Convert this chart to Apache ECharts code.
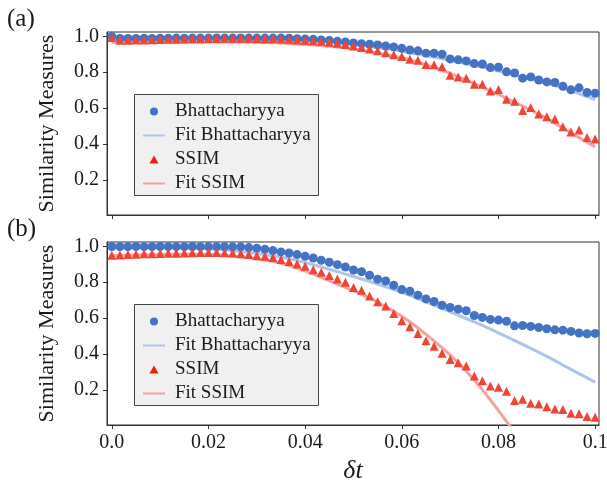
<!DOCTYPE html>
<html>
<head>
<meta charset="utf-8">
<script src="https://cdn.jsdelivr.net/npm/echarts@6/dist/echarts.min.js"></script>
<style>
  html, body { margin: 0; padding: 0; background: #fff; }
  #main { width: 607px; height: 480px; }
</style>
</head>
<body>
<div id="main"></div>
<script>
// sample times (delta t)
var dt = [0, 0.00167, 0.00333, 0.005, 0.00667, 0.00833, 0.01, 0.01167, 0.01333, 0.015,
  0.01667, 0.01833, 0.02, 0.02167, 0.02333, 0.025, 0.02667, 0.02833, 0.03, 0.03167,
  0.03333, 0.035, 0.03667, 0.03833, 0.04, 0.04167, 0.04333, 0.045, 0.04667, 0.04833,
  0.05, 0.05167, 0.05333, 0.055, 0.05667, 0.05833, 0.06, 0.06167, 0.06333, 0.065,
  0.06667, 0.06833, 0.07, 0.07167, 0.07333, 0.075, 0.07667, 0.07833, 0.08, 0.08167,
  0.08333, 0.085, 0.08667, 0.08833, 0.09, 0.09167, 0.09333, 0.095, 0.09667, 0.09833, 0.1];

// panel (a)
var bhatA = [1.000, 0.988, 0.988, 0.988, 0.989, 0.988, 0.989, 0.989, 0.990, 0.989,
  0.990, 0.990, 0.990, 0.991, 0.990, 0.990, 0.991, 0.990, 0.990, 0.990,
  0.990, 0.990, 0.989, 0.987, 0.985, 0.983, 0.980, 0.977, 0.972, 0.968,
  0.963, 0.959, 0.956, 0.952, 0.946, 0.941, 0.933, 0.924, 0.919, 0.906,
  0.906, 0.900, 0.874, 0.869, 0.863, 0.848, 0.846, 0.826, 0.828, 0.802,
  0.796, 0.767, 0.774, 0.757, 0.746, 0.743, 0.722, 0.702, 0.713, 0.687, 0.683];
var ssimA = [0.993, 0.978, 0.978, 0.979, 0.980, 0.981, 0.982, 0.983, 0.984, 0.985,
  0.986, 0.987, 0.988, 0.988, 0.989, 0.989, 0.989, 0.989, 0.988, 0.987,
  0.986, 0.985, 0.983, 0.980, 0.978, 0.975, 0.972, 0.967, 0.962, 0.955,
  0.946, 0.937, 0.930, 0.919, 0.909, 0.898, 0.887, 0.872, 0.867, 0.843,
  0.841, 0.830, 0.783, 0.774, 0.767, 0.733, 0.733, 0.696, 0.704, 0.650,
  0.639, 0.587, 0.604, 0.567, 0.552, 0.539, 0.496, 0.467, 0.478, 0.437, 0.428];

// panel (b)
var bhatB = [0.999, 0.998, 0.998, 0.999, 0.998, 0.998, 0.999, 0.998, 0.998, 0.998,
  0.999, 0.998, 0.998, 0.998, 0.998, 0.997, 0.997, 0.993, 0.989, 0.983,
  0.976, 0.969, 0.963, 0.954, 0.944, 0.935, 0.922, 0.911, 0.898, 0.885,
  0.868, 0.859, 0.839, 0.817, 0.807, 0.783, 0.759, 0.750, 0.728, 0.707,
  0.693, 0.672, 0.659, 0.650, 0.641, 0.615, 0.604, 0.593, 0.589, 0.583,
  0.557, 0.559, 0.554, 0.548, 0.541, 0.535, 0.533, 0.526, 0.517, 0.513, 0.515];
var ssimB = [0.950, 0.952, 0.954, 0.956, 0.958, 0.959, 0.960, 0.961, 0.962, 0.963,
  0.964, 0.965, 0.965, 0.965, 0.964, 0.963, 0.959, 0.954, 0.948, 0.944,
  0.937, 0.926, 0.915, 0.902, 0.889, 0.870, 0.855, 0.837, 0.818, 0.800,
  0.770, 0.756, 0.724, 0.691, 0.667, 0.626, 0.585, 0.552, 0.515, 0.474,
  0.444, 0.404, 0.370, 0.352, 0.333, 0.278, 0.252, 0.222, 0.215, 0.193,
  0.141, 0.148, 0.126, 0.122, 0.106, 0.094, 0.091, 0.070, 0.067, 0.052, 0.048];

// fitted curves, read at these times
var fitT = [0, 0.005, 0.01, 0.015, 0.02, 0.025, 0.03, 0.035, 0.04, 0.045,
  0.05, 0.055, 0.06, 0.065, 0.07, 0.075, 0.08, 0.085, 0.09, 0.095, 0.1];
var fitBhatA = [0.990, 0.990, 0.990, 0.990, 0.989, 0.988, 0.985, 0.981, 0.975, 0.968,
  0.955, 0.937, 0.917, 0.893, 0.866, 0.838, 0.806, 0.773, 0.738, 0.697, 0.648];
var fitSsimA = [0.966, 0.967, 0.968, 0.969, 0.969, 0.969, 0.967, 0.963, 0.955, 0.945,
  0.930, 0.907, 0.881, 0.842, 0.794, 0.737, 0.676, 0.612, 0.543, 0.462, 0.385];
var fitBhatB = [0.997, 0.997, 0.995, 0.991, 0.985, 0.975, 0.960, 0.940, 0.910, 0.872,
  0.832, 0.790, 0.743, 0.690, 0.635, 0.579, 0.518, 0.454, 0.387, 0.315, 0.243];
var fitSsimB = [0.948, 0.952, 0.955, 0.956, 0.954, 0.946, 0.930, 0.905, 0.862, 0.808,
  0.752, 0.690, 0.610, 0.510, 0.395, 0.255, 0.085, -0.100, null, null, null];

// ticks
var xTicks = [0, 0.02, 0.04, 0.06, 0.08, 0.1];
var xTickLabels = ['0.0', '0.02', '0.04', '0.06', '0.08', '0.1'];
var yTicks = [0.2, 0.4, 0.6, 0.8, 1.0];
var yTickLabels = ['0.2', '0.4', '0.6', '0.8', '1.0'];

var BLUE = '#4472c4';
var RED = '#ef4535';
var BLUE_FIT = '#aec4e9';
var RED_FIT = '#f6a0a0';
var FONT = 'Liberation Serif';

function pairs(xs, ys) {
  var out = [];
  for (var i = 0; i < xs.length; i++) {
    if (ys[i] !== null) out.push([xs[i], ys[i]]);
  }
  return out;
}

function tickLabel(vals, labels) {
  return function (v) {
    for (var i = 0; i < vals.length; i++) {
      if (Math.abs(vals[i] - v) < 1e-9) return labels[i];
    }
    return '';
  };
}

function xAxisFor(gridIndex, showLabels) {
  return {
    type: 'value',
    gridIndex: gridIndex,
    min: -0.001,
    max: 0.1008,
    name: showLabels ? 'δt' : '',
    nameLocation: 'middle',
    nameGap: 33,
    nameTextStyle: { fontFamily: FONT, fontStyle: 'italic', fontSize: 26, color: '#1a1a1a' },
    axisLine: { show: true, onZero: false, lineStyle: { color: '#333', width: 1 } },
    axisTick: { show: true, inside: false, length: 4, customValues: xTicks, lineStyle: { color: '#333' } },
    axisLabel: {
      show: showLabels,
      customValues: xTicks,
      formatter: tickLabel(xTicks, xTickLabels),
      margin: 8,
      fontFamily: FONT,
      fontSize: 20,
      color: '#1a1a1a'
    },
    splitLine: { show: false }
  };
}

function yAxisFor(gridIndex) {
  return {
    type: 'value',
    gridIndex: gridIndex,
    min: 0.005,
    max: 1.024,
    name: 'Similarity Measures',
    nameLocation: 'middle',
    nameGap: 49,
    nameTextStyle: { fontFamily: FONT, fontSize: 22, color: '#1a1a1a' },
    axisLine: { show: true, onZero: false, lineStyle: { color: '#333', width: 1 } },
    axisTick: { show: true, inside: false, length: 4, customValues: yTicks, lineStyle: { color: '#333' } },
    axisLabel: {
      customValues: yTicks,
      formatter: tickLabel(yTicks, yTickLabels),
      margin: 8,
      fontFamily: FONT,
      fontSize: 20,
      color: '#1a1a1a'
    },
    splitLine: { show: false }
  };
}

var TRI = 'path://M4,0 L8,7 L0,7 Z';

function legendFor(top) {
  return {
    orient: 'vertical',
    left: 142,
    top: top,
    padding: 0,
    itemGap: 5,
    itemWidth: 22,
    itemHeight: 8,
    selectedMode: false,
    z: 6,
    textStyle: { fontFamily: FONT, fontSize: 19, color: '#1a1a1a', lineHeight: 19, padding: [0, 0, 0, 5] },
    data: [
      { name: 'Bhattacharyya', icon: 'circle' },
      { name: 'Fit Bhattacharyya', itemStyle: { opacity: 0 }, lineStyle: { width: 2 } },
      { name: 'SSIM', icon: TRI, itemStyle: { color: '#f21d12' } },
      { name: 'Fit SSIM', itemStyle: { opacity: 0 }, lineStyle: { width: 2 } }
    ]
  };
}

function legendBox(top) {
  return {
    type: 'rect',
    left: 134,
    top: top,
    z: 5,
    shape: { width: 184, height: 101 },
    style: { fill: '#f0f0f0', stroke: '#444', lineWidth: 1 }
  };
}

function seriesFor(idx, bhat, ssim, fitBhat, fitSsim) {
  return [
    {
      name: 'Fit Bhattacharyya', type: 'line', xAxisIndex: idx, yAxisIndex: idx,
      data: pairs(fitT, fitBhat), smooth: 0.3, symbol: 'none', z: 2,
      lineStyle: { color: BLUE_FIT, width: 3 }, itemStyle: { color: BLUE_FIT }
    },
    {
      name: 'Fit SSIM', type: 'line', xAxisIndex: idx, yAxisIndex: idx,
      data: pairs(fitT, fitSsim), smooth: 0.3, symbol: 'none', z: 2,
      lineStyle: { color: RED_FIT, width: 3 }, itemStyle: { color: RED_FIT }
    },
    {
      name: 'Bhattacharyya', type: 'scatter', xAxisIndex: idx, yAxisIndex: idx,
      data: pairs(dt, bhat), symbol: 'circle', symbolSize: 9, z: 3,
      itemStyle: { color: BLUE, opacity: 1 }
    },
    {
      name: 'SSIM', type: 'scatter', xAxisIndex: idx, yAxisIndex: idx,
      data: pairs(dt, ssim), symbol: 'triangle', symbolSize: 9, z: 4,
      itemStyle: { color: RED, opacity: 1 }
    }
  ];
}

var chart = echarts.init(document.getElementById('main'), null, { renderer: 'canvas' });

var option = {
  backgroundColor: '#fff',
  animation: false,
  title: [
    { text: '(a)', left: 7, top: 7, padding: 0, textStyle: { fontFamily: FONT, fontWeight: 'normal', fontSize: 25, color: '#1a1a1a' } },
    { text: '(b)', left: 7, top: 217, padding: 0, textStyle: { fontFamily: FONT, fontWeight: 'normal', fontSize: 25, color: '#1a1a1a' } }
  ],
  graphic: [legendBox(94), legendBox(304)],
  grid: [
    { left: 107, top: 32, width: 492, height: 183, show: true, borderColor: '#333', borderWidth: 1, backgroundColor: 'transparent', outerBoundsMode: 'none' },
    { left: 107, top: 242, width: 492, height: 183, show: true, borderColor: '#333', borderWidth: 1, backgroundColor: 'transparent', outerBoundsMode: 'none' }
  ],
  legend: [legendFor(102), legendFor(312)],
  xAxis: [xAxisFor(0, false), xAxisFor(1, true)],
  yAxis: [yAxisFor(0), yAxisFor(1)],
  series: seriesFor(0, bhatA, ssimA, fitBhatA, fitSsimA)
    .concat(seriesFor(1, bhatB, ssimB, fitBhatB, fitSsimB))
};

chart.setOption(option);
</script>
</body>
</html>
